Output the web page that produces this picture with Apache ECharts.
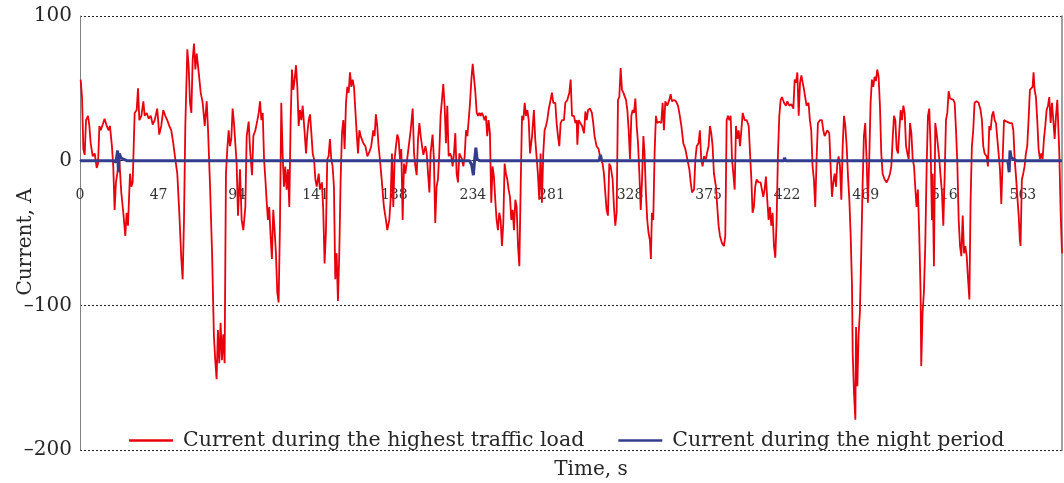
<!DOCTYPE html>
<html>
<head>
<meta charset="utf-8">
<script src="https://cdn.jsdelivr.net/npm/echarts@6/dist/echarts.min.js"></script>
<style>
  html, body { margin: 0; padding: 0; background: #fff; }
  #chart { width: 1064px; height: 483px; }
</style>
</head>
<body>
<div id="chart"></div>
<script>
// ---------- DATA ----------
const xTickLabels = ['0','47','94','141','188','234','281','328','375','422','469','516','563'];

const timeHigh = [
0.4,1.2,2,2.8,3.6,4.8,5.6,6.4,7.6,8.8,10,10.8,11.6,12.4,13.6,14.7,16,17.1,17.9,19.1,19.9,20.7,21.5,22.3,23.5,24.7,25.9,27.1,27.9,28.7,29.9,30.7,31.5,32.7,33.9,34.7,35.5,36.7,37.9,38.7,39.9,41.1,42.3,43.5,44.7,46.2,47.4,48.6,49.8,51,52.2,53.4,54.6,55.8,57,58.2,59.4,60.6,61.4,62.2,63,64.2,65,65.8,66.6,67.4,68.2,69,69.8,71,72.2,73.4,74.6,75.8,76.6,77.8,79,80.1,80.9,81.7,82.5,83.3,84.1,84.9,85.7,86.5,87.3,88.1,88.9,89.7,90.5,91.3,92.1,92.9,93.7,94.5,95.7,96.7,97.7,98.9,99.7,100.9,101.7,102.9,103.7,104.9,106.1,106.9,107.7,108.5,109.3,110.1,110.9,111.6,112.4,113.2,114,114.8,115.6,116.4,117.2,118,118.8,119.6,120.4,121.2,122,122.8,123.6,124.4,125.2,126,126.8,127.6,128.4,129.2,130,130.8,131.6,132.4,133.2,134.4,135.2,136,136.8,137.6,138.4,139.2,140,140.8,141.6,142.8,143.5,144.7,145.5,146.3,147.1,147.9,148.7,149.5,150.3,151.1,151.9,152.7,153.5,154.3,155.1,155.9,156.7,157.5,158.3,159.1,159.9,160.7,161.5,162.3,163.1,163.9,164.7,165.5,166.3,167.1,167.9,168.7,169.5,170.7,171.9,173.1,174.2,175.4,176.2,177,177.8,178.6,179.4,180.6,181.8,183,183.8,185,185.8,186.6,187.4,188.2,189,189.8,190.6,191.4,192.2,193,193.8,194.6,195.8,196.6,197.8,199,199.8,200.6,201.4,202.2,203,203.8,204.6,205.4,206.6,207.4,208.2,209,209.7,210.9,211.7,212.5,213.3,214.1,214.9,215.7,216.5,217.3,218.1,218.9,219.7,220.5,221.3,222.1,222.9,223.7,224.5,225.3,226.1,226.9,227.7,228.5,229.3,230.1,230.9,231.7,232.5,233.3,234.1,234.9,235.7,236.5,237.3,238.1,238.9,239.6,240.4,241.2,242,242.8,243.6,244.4,245.2,246,246.8,247.6,248.4,249.2,250,250.8,251.6,252.4,253.2,254,254.8,255.6,256.4,257.2,258,258.8,259.6,260.4,261.2,262,262.8,263.6,264.4,265.2,266,266.8,267.6,268.4,269.2,270.4,271.5,272.3,273.1,273.9,274.7,275.5,276.3,277.1,277.9,278.7,279.5,280.3,281.5,282.3,283.1,284.3,285.1,285.9,286.7,287.5,288.3,289.5,290.3,291.5,292.7,293.5,294.3,295.5,296.3,297.1,297.5,298.3,299.1,300.3,301.5,302.3,303.1,303.9,305.1,306.2,307,307.8,309,310.2,311.4,312.6,313.4,314.2,315,315.8,316.6,317.4,318.6,319.4,320.2,321,321.8,322.6,323.4,324.2,325,325.8,326.6,327.4,328.2,329,329.8,330.6,331.4,332.2,333,333.8,334.6,335.4,336.2,337,337.7,338.5,339.3,340.1,340.9,341.5,342.1,342.9,343.7,344.5,345.3,346.5,347.7,348.5,349.3,350.1,351.3,352.5,353.3,354.1,355.3,356.5,357.7,358.5,359.7,360.9,362.1,363.3,364.5,365.3,366.1,367.3,368.1,368.9,370,370.8,371.6,372.4,373.2,374.4,375.2,376,376.8,377.6,378.4,379.2,380.4,381.2,382,382.8,384,385.2,386,386.8,387.6,388.4,389.2,390,390.8,391.6,392.4,393.2,394,394.8,395.6,396.4,397.6,398.8,400,400.8,401.6,402.3,403.1,403.9,404.7,405.9,407.1,407.9,408.7,409.5,410.3,411.1,411.9,412.7,413.5,414.3,415.1,415.9,416.7,417.5,418.3,419.1,419.9,421.1,422.3,423.1,424.3,425.5,426.7,427.5,428.3,429.1,429.9,430.7,431.5,432.3,433.1,433.9,434.6,435.8,436.6,437.4,438.2,439,439.8,440.6,441.4,442.6,443.8,444.6,445.4,446.2,447,448.2,449,449.8,450.6,451.4,452.2,453,453.8,454.6,455.4,456.2,457,457.8,458.6,459.4,460.2,461,461.8,462.2,463,463.8,464.2,465,465.7,466.5,467.3,468.1,468.9,469.7,470.5,471.3,472.1,472.9,473.7,474.5,475.3,476.1,476.9,477.7,478.5,479.3,480.1,481.3,482.5,483.7,484.5,485.3,486.1,486.9,487.7,488.5,489.3,490.1,490.9,491.7,492.5,493.3,494.1,494.9,495.7,496.5,497.3,498.1,498.9,499.6,500.4,501.2,502,502.8,503.2,504,504.8,505.6,506.4,507.2,508,508.8,509.6,510,510.8,511.6,512.4,513.2,514,514.8,515.6,516.4,517.2,518,518.8,519.6,520.4,521.2,522.4,523.2,524,524.8,525.6,526.4,527.2,528,528.8,529.6,530.4,531.2,532,532.7,533.5,534.3,535.1,536.3,537.5,538.7,539.5,540.3,541.1,542.3,543.1,543.9,544.7,545.5,546.3,547.1,547.9,549.1,550.3,551.1,551.9,552.7,553.5,554.3,555.1,556.3,557.5,558.3,559.1,559.9,560.7,561.5,562.2,562.6,563.4,564.2,565,565.8,566.6,567.4,568.2,569,569.8,570.4,571,571.8,572.6,573.4,574.2,575,575.8,576.6,577.4,578.2,579,579.8,580.6,581.4,582.2,583,583.8,584.6,585.4,585.8,586.6,587.4
];
const currentHigh = [
56,44,8,4,28,31,24,12,3,5,-5,-2,24,21,25,29,24,21,24,10,-4,-34,-15,-9,1,-22,-36,-52,-36,-45,-9,-18,-15,33,35,50,28,31,41,31,33,29,31,25,28,36,18,24,35,31,28,24,21,12,1,-9,-36,-68,-82,-41,24,77,65,40,33,70,81,63,74,61,47,40,24,41,21,-18,-64,-121,-138,-151,-117,-140,-112,-138,-120,-140,-9,8,21,10,15,36,26,12,-2,-38,-6,-41,-48,-32,17,27,8,-10,17,21,28,33,41,28,33,1,-13,-27,-41,-32,-52,-68,-34,-48,-64,-91,-98,-45,40,5,-18,-4,-20,-6,-32,28,63,49,56,66,51,24,35,28,38,19,5,19,28,32,19,5,1,-13,-18,-9,-20,-15,-34,-71,-50,1,3,15,1,-4,-18,-82,-64,-97,-64,-13,19,28,8,40,51,47,61,51,56,51,35,19,5,21,17,18,12,10,3,6,10,21,17,32,24,10,1,-15,-32,-41,-48,-41,-27,5,-32,1,10,18,15,1,8,-41,-2,-9,2,1,21,36,5,-4,-10,15,26,17,10,4,10,5,-9,-22,5,18,1,-43,-18,-13,5,31,32,53,38,12,38,3,5,3,-4,5,19,-9,-15,5,3,1,-4,3,21,17,28,40,56,67,57,47,33,31,33,31,33,31,28,31,17,28,19,-29,-4,-11,-27,-41,-48,-36,-41,-59,-43,-2,-9,-13,-20,-25,-41,-34,-48,-27,-32,-59,-73,-18,31,28,40,31,35,28,5,17,35,15,3,-9,-27,5,-29,5,21,24,28,35,42,47,40,40,26,17,10,26,28,28,40,42,47,56,31,31,26,28,11,28,27,24,19,34,28,35,36,33,26,17,10,8,1,-2,-9,-22,-34,-38,-2,-4,-13,-32,-45,-36,42,44,64,49,47,47,42,35,21,1,31,35,33,43,24,12,-9,-34,-13,17,5,-22,-41,-50,-55,-68,-36,-41,5,31,26,27,26,40,21,41,38,42,46,41,42,41,38,33,24,12,8,1,-6,-15,-22,-20,1,10,12,21,1,-4,3,1,6,10,24,19,10,-9,-18,-32,-45,-52,-57,-59,-52,28,31,28,31,1,-9,-20,24,15,21,10,21,33,28,28,24,5,-13,-36,-32,-18,-13,-15,-15,-20,-25,-20,-11,-27,-41,-32,-45,-36,-59,-67,-41,5,31,42,44,40,38,41,38,39,36,56,54,61,31,54,59,54,49,49,38,40,28,21,-4,-13,-32,1,26,28,28,21,17,17,21,19,-4,-25,-15,-9,-18,-2,3,-4,-27,10,31,24,10,-11,-27,-52,-87,-133,-161,-179,-115,-156,-121,-105,-64,-18,17,26,1,-29,1,40,56,51,58,55,63,58,38,5,-9,-13,-15,-12,-9,-4,15,31,28,8,5,21,35,28,38,33,10,5,1,26,19,1,-4,-18,-32,-20,-50,-91,-142,-105,-91,-59,-6,31,36,10,-41,-9,-73,26,19,10,1,-11,-22,-45,-11,28,33,48,43,42,42,40,21,-2,-41,-59,-66,-38,-64,-59,-66,-82,-96,-29,10,21,40,41,40,35,28,10,5,3,-4,24,21,31,34,28,26,10,-6,-30,1,28,29,27,28,26,26,21,1,-11,-25,-38,-55,-59,-13,-9,-4,5,10,28,49,48,51,61,49,44,28,8,1,5,1,15,24,35,38,44,26,40,28,15,31,42,42,5,-36,-64
];

const timeNight = [0,20,21.5,22.5,23,23.5,24.5,26,28,112,112.5,113,114,125,125.6,126.2,233,234.3,235.3,236,236.8,237.5,239,310.5,311.3,312,421,421.5,422,474,474.5,475,543,543.5,544,555,555.8,556.3,557,558,560,587.4];
const currentNight = [0,0,-1,7,-8,5,2,1,0,0,1,-1,0,0,1,0,0,-3,-10,0,9,1,0,0,4,0,0,2,0,0,1,0,0,-1,0,0,-8,7,2,1,0,0];

// ---------- BUILD ----------
const highData = timeHigh.map((t, i) => [t, currentHigh[i]]);
const nightData = timeNight.map((t, i) => [t, currentNight[i]]);

const FONT = 'DejaVu Serif';
const TXT = '#262626';
const RED = '#e8000d';
const BLUE = '#333d8c';
const GRID_TOP = 16, GRID_BOTTOM = 33, H = 483;
const Y_MIN = -200, Y_MAX = 100;
// pixel distance from the bottom of the plot to the value 0 (axis crosses there)
const zeroOffset = (H - GRID_TOP - GRID_BOTTOM) * (0 - Y_MIN) / (Y_MAX - Y_MIN);

const chart = echarts.init(document.getElementById('chart'), null, { renderer: 'canvas' });
chart.setOption({
  animation: false,
  backgroundColor: '#ffffff',
  textStyle: { fontFamily: FONT },
  grid: { left: 80, right: 2, top: GRID_TOP, bottom: GRID_BOTTOM, containLabel: false, outerBoundsMode: 'none' },
  legend: {
    left: 124, top: 425,
    itemWidth: 44, itemHeight: 2.5, itemGap: 34,
    textStyle: { fontFamily: FONT, fontSize: 20.5, color: TXT, padding: [0, 0, 0, 5] },
    data: [
      { name: 'Current during the highest traffic load', icon: 'rect', itemStyle: { color: RED } },
      { name: 'Current during the night period', icon: 'rect', itemStyle: { color: BLUE } }
    ]
  },
  xAxis: {
    type: 'value', min: 0, max: 587.4, interval: 47,
    position: 'bottom', offset: -zeroOffset, z: 0,
    axisLine: { onZero: false, lineStyle: { color: '#2b2b4a', type: 'dotted', width: 1 } },
    axisTick: { show: false },
    splitLine: { show: false },
    axisLabel: {
      margin: 28, fontFamily: FONT, fontSize: 14, color: '#333',
      showMaxLabel: false,
      formatter: function (v) {
        const k = Math.round(v / 47);
        return Math.abs(v - k * 47) < 1e-6 && k < xTickLabels.length ? xTickLabels[k] : '';
      }
    }
  },
  yAxis: [{
    type: 'value', min: Y_MIN, max: Y_MAX, interval: 100,
    axisLine: { show: true, onZero: false, lineStyle: { color: '#808080', width: 1 } },
    axisTick: { show: false },
    axisLabel: {
      margin: 8, fontFamily: FONT, fontSize: 20, color: TXT,
      formatter: v => String(v).replace('-', '\u2013')
    },
    splitLine: { show: true, lineStyle: { color: '#222', type: [2, 2], width: 1 } }
  }, {
    type: 'value', min: Y_MIN, max: Y_MAX, interval: 100, position: 'right',
    axisLine: { show: true, onZero: false, lineStyle: { color: '#808080', width: 1.5 } },
    axisTick: { show: false }, axisLabel: { show: false }, splitLine: { show: false }
  }],
  graphic: [{
    type: 'text', x: 591, y: 470,
    style: { text: 'Time, s', fontFamily: FONT, fontSize: 20, fill: TXT, align: 'center', verticalAlign: 'middle' }
  }, {
    type: 'text', x: 26, y: 242, rotation: Math.PI / 2,
    style: { text: 'Current, A', fontFamily: FONT, fontSize: 20, fill: TXT, align: 'center', verticalAlign: 'middle' }
  }],
  series: [{
    name: 'Current during the highest traffic load',
    type: 'line', data: highData, symbol: 'none', showSymbol: false,
    lineStyle: { color: RED, width: 1.8 },
    itemStyle: { color: RED },
    z: 5
  }, {
    name: 'Current during the night period',
    type: 'line', data: nightData, symbol: 'none', showSymbol: false,
    lineStyle: { color: BLUE, width: 3 },
    itemStyle: { color: BLUE },
    z: 6
  }]
});
</script>
</body>
</html>
